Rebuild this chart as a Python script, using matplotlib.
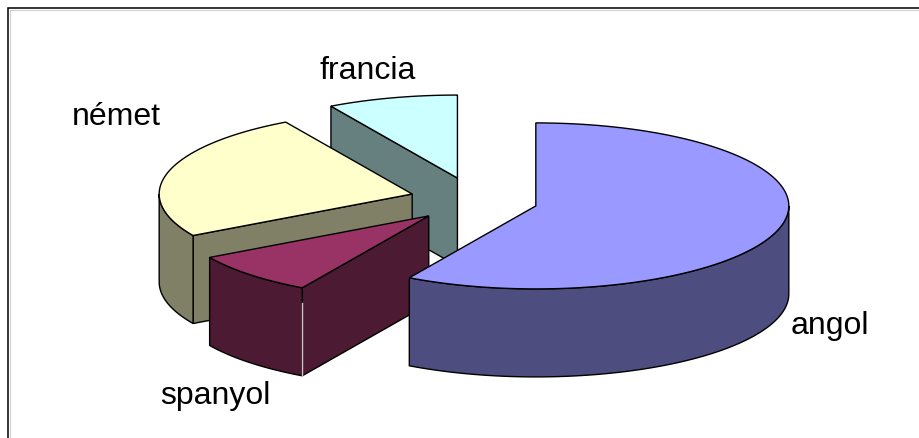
import numpy as np
import matplotlib
matplotlib.use("Agg")
import matplotlib.pyplot as plt

categories = ["angol", "spanyol", "német", "francia"]
values = [70, 10, 30, 10]
top_colors = ["#9999FF", "#993366", "#FFFFCC", "#CCFFFF"]
side_colors = ["#4D4D80", "#4D1A33", "#808066", "#668080"]

# pie geometry in pixels
CX, CY = 474, 194
A, B = 253, 83
DEPTH = 88
EXPLODE_X = 64
EXPLODE_Y = [46, 31, 0, 16.5]  # front slices move further, perspective of the 3d view
LINE = 1.0

plt.rcParams["font.family"] = ["Liberation Sans", "DejaVu Sans"]

fig = plt.figure(figsize=(9.19, 4.38), dpi=100)
ax = fig.add_axes([0, 0, 1, 1])
ax.set_xlim(0, 919)
ax.set_ylim(438, 0)
ax.axis("off")


def rim(cx, cy, t):
    # t is in degrees, clockwise from the top of the pie
    t = np.radians(t)
    return cx + A * np.sin(t), cy - B * np.cos(t)


def poly(x, y, color, z):
    ax.fill(x, y, facecolor=color, edgecolor="black", linewidth=LINE, joinstyle="miter", zorder=z)


def draw_slice(start, end, ey, top, side, z):
    mid = np.radians((start + end) / 2)
    cx = CX + EXPLODE_X * np.sin(mid)
    cy = CY - ey * np.cos(mid)

    # cut faces, only those turned towards the viewer
    for t, normal in ((start, start - 90), (end, end + 90)):
        if -np.cos(np.radians(normal)) > 0.01:
            x, y = rim(cx, cy, t)
            poly([cx, x, x, cx], [cy, y, y + DEPTH, cy + DEPTH], side, z)

    # outer wall, front half of the ellipse
    a0, a1 = max(start, 90), min(end, 270)
    if a1 > a0:
        x, y = rim(cx, cy, np.linspace(a0, a1, 120))
        poly(np.r_[x, x[::-1]], np.r_[y, y[::-1] + DEPTH], side, z + 0.1)

    # top
    x, y = rim(cx, cy, np.linspace(start, end, 200))
    poly(np.r_[cx, x], np.r_[cy, y], top, z + 0.2)
    return cx, cy


angles = np.r_[0, np.cumsum(values)] / np.sum(values) * 360

# back to front
for z, i in enumerate([3, 2, 1, 0]):
    c = draw_slice(angles[i], angles[i + 1], EXPLODE_Y[i], top_colors[i], side_colors[i], z + 1)
    if categories[i] == "spanyol":
        # thin light seam between the two front walls
        x, y = rim(c[0], c[1], angles[i])
        ax.plot([x, x], [y + 15, y + DEPTH], color="#C8C8C8", linewidth=1.0, zorder=z + 1.3)

# chart frame, only top and left show up in the crop
ax.plot([8, 8, 919], [438, 8, 8], color="black", linewidth=1.1, solid_joinstyle="miter", zorder=10)
ax.plot([9.5, 9.5, 919], [438, 9.5, 9.5], color="#D0D0D0", linewidth=0.8, solid_joinstyle="miter", zorder=9)

label_pos = [(830, 326), (215, 396), (116, 117), (368, 71)]
for name, (x, y) in zip(categories, label_pos):
    ax.text(x, y, name, fontsize=23, color="black", ha="center", va="center", zorder=11)

fig.savefig("out.png", dpi=100)
